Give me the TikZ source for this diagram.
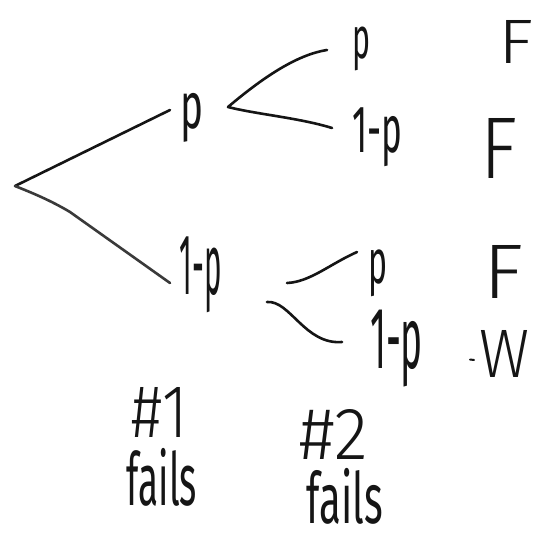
\documentclass[tikz,border=0pt]{standalone}
\usepackage{fontspec}
\setmainfont{Fira Sans}
\newfontfamily\lightface{Fira Sans}[UprightFont=* Light]
\usepackage{graphicx}
\definecolor{ink}{HTML}{151515}
\definecolor{fadedink}{HTML}{3A3A3A}
% squeeze a hand-lettered label into a box of given width and total height
\newcommand{\handbox}[3]{\resizebox*{#1}{#2}{#3}}
\tikzset{
  pen/.style={line width=2.6pt, line cap=round, line join=round, draw=ink},
  hand/.style={inner sep=0pt, outer sep=0pt, text=ink},
  thinhand/.style={hand, font=\lightface},
}
\begin{document}
\begin{tikzpicture}[x=1pt,y=-1pt]
\useasboundingbox (0,0) rectangle (553,543);
\fill[white] (0,0) rectangle (553,543);

% first trial
\node[hand] (pA)  at (191.5,117.5) {\handbox{23pt}{49pt}{p}};
\node[hand] (qA)  at (201,275)     {\handbox{42pt}{76pt}{1-p}};

% second trial after p
\node[hand] (pB)  at (361.5,49)    {\handbox{18pt}{44pt}{p}};
\node[hand] (qB)  at (377,137.5)   {\handbox{50pt}{59pt}{1-p}};

% second trial after 1-p
\node[hand] (pC)  at (377.5,273.5) {\handbox{19pt}{47pt}{p}};
\node[hand] (qC)  at (396.5,348.5) {\handbox{53pt}{77pt}{1-p}};

% outcomes
\node[thinhand] (oA)  at (515.5,41.5)  {\handbox{35pt}{43pt}{F}};
\node[thinhand] (oB)  at (498.5,148)   {\handbox{37pt}{60pt}{F}};
\node[thinhand] (oC)  at (503,271.5)   {\handbox{40pt}{53pt}{F}};
\node[thinhand] (oD)  at (504,353.5)   {\handbox{50pt}{47pt}{W}};
\draw[pen, line width=2pt] ([xshift=-9pt,yshift=-6pt]oD.west) -- ++(4pt,-0.5pt);

% column captions
\node[thinhand] (h1)  at (160,412)     {\handbox{56pt}{50pt}{\#1}};
\node[hand]     (f1)  at (162,477)     {\handbox{70pt}{58pt}{fails}};
\node[thinhand] (h2)  at (334,434)     {\handbox{68pt}{50pt}{\#2}};
\node[hand]     (f2)  at (345,496)     {\handbox{76pt}{56pt}{fails}};

% branch points
\coordinate (root)  at (15,186);
\coordinate (forkB) at (228,107);
\coordinate (endA)  at (170,110);
\coordinate (endQ)  at (170,283);
\coordinate (endPB) at (327,50);
\coordinate (endQB) at (332,128);
\coordinate (startPC) at (287,283);
\coordinate (endPC) at (357,252);
\coordinate (startQC) at (267,302);
\coordinate (endQC) at (342,342);

% first trial branches
\draw[pen] (root) -- (endA);
\draw[pen, draw=fadedink] (root) .. controls (30,192) and (50,200) .. (70,212) -- (endQ);

% second trial branches after p
\draw[pen] (endPB) .. controls (295,55) and (260,80) .. (forkB)
           .. controls (255,114) and (300,118) .. (endQB);

% second trial branches after 1-p
\draw[pen] (startPC) .. controls (310,282) and (330,264) .. (endPC);
\draw[pen] (startQC) .. controls (290,300) and (305,345) .. (endQC);
\end{tikzpicture}
\end{document}
